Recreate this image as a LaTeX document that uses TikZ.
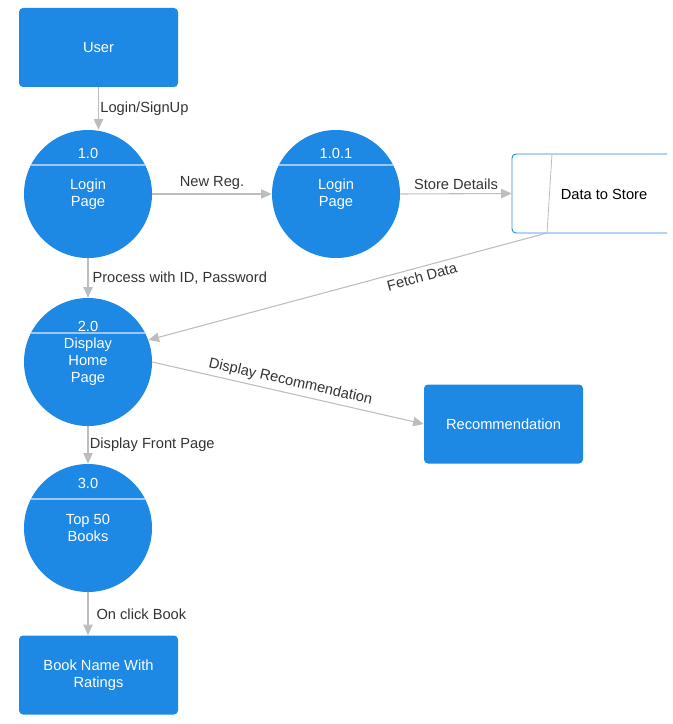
\documentclass[tikz,border=0pt]{standalone}
\usepackage{fontspec}
\setmainfont{Liberation Sans}
\usetikzlibrary{arrows.meta,positioning,shapes}

\definecolor{dfdblue}{HTML}{1E88E5}
\definecolor{flowgray}{HTML}{BDBDBD}
\definecolor{lbltext}{HTML}{333333}

\begin{document}
\begin{tikzpicture}[
        x=0.75pt, y=-0.75pt,
        every node/.style={font=\fontsize{11}{12.8}\selectfont, align=center},
        entity/.style={fill=dfdblue, rounded corners=3pt, text=white, minimum width=119.25pt, minimum height=59.25pt},
        process/.style={circle, fill=dfdblue, text=white, minimum size=96pt, inner sep=0pt},
        procno/.style={text=white, inner sep=0pt},
        divider/.style={draw=white!55!dfdblue, line width=0.8pt},
        flow/.style={draw=flowgray, line width=0.8pt, -{Triangle[length=8pt,width=7pt]}},
        flowlbl/.style={text=lbltext, inner sep=3pt}
    ]
    \useasboundingbox (0,0) rectangle (673,724);

    % Nodes
    \node (user)[entity] at (98.5,47.5) {User};

    \node (c1)[process] at (88,194) {Login\\ Page};
    \node (n1)[procno] at (88,153) {1.0};
    \draw[divider] (31,165) -- (145,165);

    \node (c101)[process] at (336,194) {Login\\ Page};
    \node (n101)[procno] at (336,153) {1.0.1};
    \draw[divider] (279,165) -- (393,165);

    \node (store)[minimum width=116.25pt, minimum height=59.25pt] at (589.5,193.5) {};
    \node (storetxt)[text=black] at (604,194) {Data to Store};
    \draw[dfdblue, line width=0.7pt, rounded corners=3pt] (667,154) -- (512,154) -- (512,233) -- (667,233);
    \draw[flowgray, line width=0.6pt] (552,154) -- (547,233);
    \coordinate (sd) at (547,233);

    \node (c2)[process] at (88,362) {Display\\ Home\\ Page};
    \node (n2)[procno] at (88,326) {2.0};
    \draw[divider] (31,333) -- (145,333);

    \node (rec)[entity] at (503.5,424) {Recommendation};

    \node (c3)[process] at (88,528) {Top 50\\ Books};
    \node (n3)[procno] at (88,483) {3.0};
    \draw[divider] (31,499) -- (145,499);

    \node (book)[entity] at (98.5,675) {Book Name With\\ Ratings};

    % Edges
    \draw[flow] (user.south) -- (user.south |- c1.north) node[midway, right, flowlbl, inner sep=1pt] {Login/SignUp};
    \draw[flow] (c1) -- (c101) node[midway, above, flowlbl] {New Reg.};
    \draw[flow] (c101.east) -- (store.west) node[midway, above, flowlbl] {Store Details};
    \draw[flow] (c1) -- (c2) node[midway, right, flowlbl] {Process with ID, Password};
    \draw[flow] (sd) -- (c2.20) node[pos=0.32, sloped, below, flowlbl] {Fetch Data};
    \draw[flow] (c2.east) -- (rec.west) node[midway, sloped, above, flowlbl] {Display Recommendation};
    \draw[flow] (c2) -- (c3) node[midway, right, flowlbl, inner sep=1pt] {Display Front Page};
    \draw[flow] (c3.south) -- (c3.south |- book.north) node[midway, right, flowlbl, inner sep=6pt] {On click Book};

\end{tikzpicture}
\end{document}
